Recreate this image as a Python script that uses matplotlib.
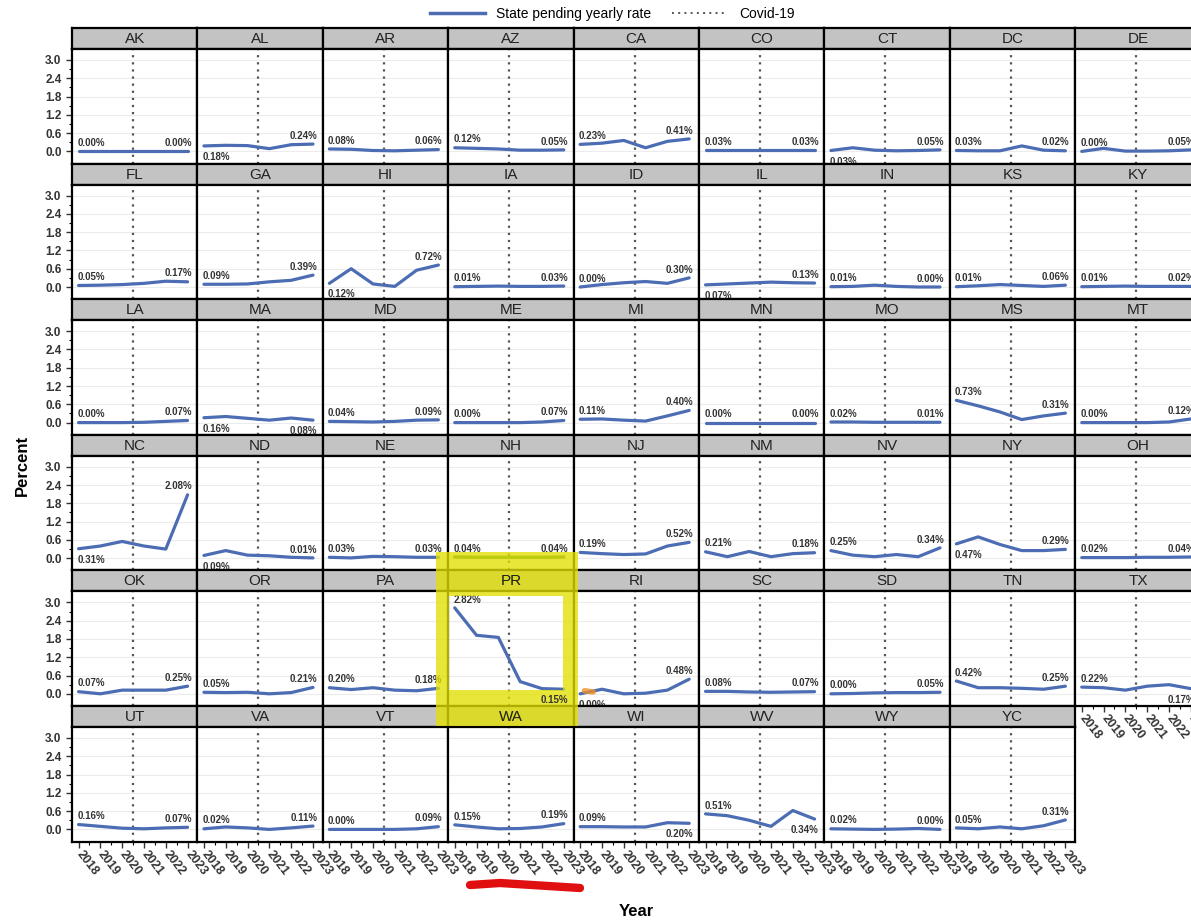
import matplotlib
matplotlib.use("Agg")
import matplotlib.pyplot as plt
from matplotlib.lines import Line2D
from matplotlib.path import Path
from matplotlib.patches import PathPatch
from matplotlib.transforms import ScaledTranslation

plt.rcParams['font.family'] = ['Liberation Sans Narrow', 'Liberation Sans', 'DejaVu Sans']

years = [2018, 2019, 2020, 2021, 2022, 2023]
covid_x = 2020.5

# panel order (row by row, 9 columns)
states = ['AK', 'AL', 'AR', 'AZ', 'CA', 'CO', 'CT', 'DC', 'DE',
          'FL', 'GA', 'HI', 'IA', 'ID', 'IL', 'IN', 'KS', 'KY',
          'LA', 'MA', 'MD', 'ME', 'MI', 'MN', 'MO', 'MS', 'MT',
          'NC', 'ND', 'NE', 'NH', 'NJ', 'NM', 'NV', 'NY', 'OH',
          'OK', 'OR', 'PA', 'PR', 'RI', 'SC', 'SD', 'TN', 'TX',
          'UT', 'VA', 'VT', 'WA', 'WI', 'WV', 'WY', 'YC']

# yearly pending rate (%) 2018..2023
rates = {
    'AK': [0.00, 0.00, 0.00, 0.00, 0.00, 0.00],
    'AL': [0.18, 0.20, 0.19, 0.09, 0.22, 0.24],
    'AR': [0.08, 0.07, 0.03, 0.02, 0.04, 0.06],
    'AZ': [0.12, 0.10, 0.08, 0.04, 0.04, 0.05],
    'CA': [0.23, 0.27, 0.36, 0.12, 0.33, 0.41],
    'CO': [0.03, 0.03, 0.03, 0.03, 0.03, 0.03],
    'CT': [0.03, 0.12, 0.04, 0.02, 0.03, 0.05],
    'DC': [0.03, 0.02, 0.02, 0.18, 0.04, 0.02],
    'DE': [0.00, 0.10, 0.01, 0.01, 0.02, 0.05],
    'FL': [0.05, 0.06, 0.08, 0.12, 0.19, 0.17],
    'GA': [0.09, 0.09, 0.10, 0.17, 0.22, 0.39],
    'HI': [0.12, 0.60, 0.10, 0.02, 0.55, 0.72],
    'IA': [0.01, 0.02, 0.03, 0.02, 0.02, 0.03],
    'ID': [0.00, 0.08, 0.14, 0.18, 0.12, 0.30],
    'IL': [0.07, 0.10, 0.13, 0.16, 0.14, 0.13],
    'IN': [0.01, 0.02, 0.06, 0.02, 0.00, 0.00],
    'KS': [0.01, 0.04, 0.08, 0.05, 0.02, 0.06],
    'KY': [0.01, 0.02, 0.03, 0.02, 0.02, 0.02],
    'LA': [0.00, 0.00, 0.00, 0.01, 0.04, 0.07],
    'MA': [0.16, 0.20, 0.14, 0.08, 0.15, 0.08],
    'MD': [0.04, 0.03, 0.02, 0.04, 0.08, 0.09],
    'ME': [0.00, 0.00, 0.00, 0.00, 0.02, 0.07],
    'MI': [0.11, 0.12, 0.08, 0.05, 0.22, 0.40],
    'MN': [0.00, 0.00, 0.00, 0.00, 0.00, 0.00],
    'MO': [0.02, 0.02, 0.01, 0.01, 0.01, 0.01],
    'MS': [0.73, 0.55, 0.35, 0.10, 0.22, 0.31],
    'MT': [0.00, 0.00, 0.00, 0.00, 0.02, 0.12],
    'NC': [0.31, 0.40, 0.55, 0.40, 0.30, 2.08],
    'ND': [0.09, 0.25, 0.10, 0.08, 0.03, 0.01],
    'NE': [0.03, 0.01, 0.06, 0.05, 0.03, 0.03],
    'NH': [0.04, 0.03, 0.03, 0.03, 0.03, 0.04],
    'NJ': [0.19, 0.15, 0.12, 0.14, 0.40, 0.52],
    'NM': [0.21, 0.05, 0.22, 0.05, 0.15, 0.18],
    'NV': [0.25, 0.10, 0.05, 0.12, 0.05, 0.34],
    'NY': [0.47, 0.70, 0.45, 0.25, 0.25, 0.29],
    'OH': [0.02, 0.02, 0.02, 0.03, 0.03, 0.04],
    'OK': [0.07, 0.00, 0.12, 0.12, 0.12, 0.25],
    'OR': [0.05, 0.04, 0.05, 0.00, 0.04, 0.21],
    'PA': [0.20, 0.14, 0.20, 0.12, 0.10, 0.18],
    'PR': [2.82, 1.92, 1.85, 0.40, 0.17, 0.15],
    'RI': [0.00, 0.15, 0.00, 0.02, 0.12, 0.48],
    'SC': [0.08, 0.08, 0.06, 0.05, 0.06, 0.07],
    'SD': [0.00, 0.01, 0.03, 0.04, 0.04, 0.05],
    'TN': [0.42, 0.20, 0.20, 0.18, 0.15, 0.25],
    'TX': [0.22, 0.20, 0.12, 0.25, 0.30, 0.17],
    'UT': [0.16, 0.10, 0.04, 0.02, 0.05, 0.07],
    'VA': [0.02, 0.08, 0.05, 0.00, 0.05, 0.11],
    'VT': [0.00, 0.00, 0.00, 0.00, 0.02, 0.09],
    'WA': [0.15, 0.08, 0.02, 0.03, 0.08, 0.19],
    'WI': [0.09, 0.09, 0.08, 0.08, 0.22, 0.20],
    'WV': [0.51, 0.45, 0.30, 0.10, 0.62, 0.34],
    'WY': [0.02, 0.01, 0.00, 0.01, 0.03, 0.00],
    'YC': [0.05, 0.02, 0.08, 0.02, 0.12, 0.31],
}

# labels drawn below the line instead of above (first / last point)
below_first = ['AL', 'CT', 'HI', 'IL', 'MA', 'NC', 'ND', 'NY', 'RI']
below_last = ['MA', 'PR', 'TX', 'WI', 'WV']

yticks = [0.0, 0.6, 1.2, 1.8, 2.4, 3.0]

W, H = 1191, 923
fig = plt.figure(figsize=(W / 100, H / 100), dpi=100)

def fx(px):
    return px / W

def fy(py):
    return 1 - py / H

x0, colw = 72, 125.4
y0, rowh, headh = 28, 135.6, 21
ncol = 9
line_col = '#4c6db3'
lab_kw = dict(fontsize=7, fontweight='bold', color='#333333')
panels = {}
axes = {}

for i, st in enumerate(states):
    r, c = divmod(i, ncol)
    left = x0 + c * colw
    top = y0 + r * rowh
    # header strip
    axh = fig.add_axes([fx(left), fy(top + headh), colw / W, headh / H])
    axh.set_facecolor('#c3c3c3')
    axh.set_xticks([])
    axh.set_yticks([])
    for s in axh.spines.values():
        s.set_linewidth(1.6)
    axh.text(0.5, 0.48, st, ha='center', va='center', fontsize=11,
             color='#222222', transform=axh.transAxes)
    panels[st] = (left, top)

    ax = fig.add_axes([fx(left), fy(top + rowh), colw / W, (rowh - headh) / H])
    axes[st] = ax
    ax.set_xlim(2017.7, 2023.45)
    ax.set_ylim(-0.4, 3.36)
    ax.set_yticks(yticks)
    ax.set_yticks([0.3, 0.9, 1.5, 2.1, 2.7], minor=True)
    ax.set_xticks(years)
    ax.set_xticks([2018.5, 2019.5, 2020.5, 2021.5, 2022.5], minor=True)
    ax.grid(axis='y', color='#ececec', linewidth=0.8)
    ax.set_axisbelow(True)
    for s in ax.spines.values():
        s.set_linewidth(1.6)

    ax.axvline(covid_x, color='#555555', linestyle=(0, (1, 2.2)), linewidth=1.6)
    vals = rates[st]
    ax.plot(years, vals, color=line_col, linewidth=2.3, solid_capstyle='round',
            solid_joinstyle='round')

    # end labels
    dy0 = -8 if st in below_first else 6
    ax.annotate(f"{vals[0]:.2f}%", (years[0], vals[0]), xytext=(-1, dy0),
                textcoords='offset points', ha='left', va='center', **lab_kw)
    if st != 'PR':
        dy1 = -8 if st in below_last else 6
        ax.annotate(f"{vals[-1]:.2f}%", (years[-1], vals[-1]), xytext=(3, dy1),
                    textcoords='offset points', ha='right', va='center', **lab_kw)

    if c == 0:
        ax.tick_params(axis='y', labelsize=8.5, length=4, width=1,
                       colors='#333333')
        ax.tick_params(axis='y', which='minor', length=2.5, width=0.8)
        for lb in ax.get_yticklabels():
            lb.set_fontweight('bold')
    else:
        ax.tick_params(axis='y', which='both', left=False, labelleft=False)

    bottom_panel = (i + ncol >= len(states))
    if bottom_panel:
        ax.tick_params(axis='x', length=4, width=1, labelsize=9,
                       colors='#333333')
        ax.tick_params(axis='x', which='minor', length=2.5, width=0.8)
        ax.set_xticklabels([str(y) for y in years], rotation=-52,
                           ha='left', va='center', rotation_mode='anchor',
                           fontweight='bold')
    else:
        ax.tick_params(axis='x', which='both', bottom=False, labelbottom=False)

    if st == 'NH':
        ax.plot(years, vals, color='#3a8a1e', linewidth=2.0, alpha=0.8)
    if st == 'RI':
        ax.plot([2018.2, 2018.6], [0.1, 0.06], color='#f0902a', linewidth=4,
                alpha=0.8, solid_capstyle='round')

# axis titles
fig.text(fx(22), fy(465), 'Percent', rotation=90, ha='center', va='center',
         fontsize=12, fontweight='bold')
fig.text(fx(636), fy(911), 'Year', ha='center', va='center',
         fontsize=12, fontweight='bold')

# legend
handles = [Line2D([], [], color=line_col, linewidth=2.5),
           Line2D([], [], color='#555555', linestyle=(0, (1, 2.2)), linewidth=1.4)]
fig.legend(handles, ['State pending yearly rate', 'Covid-19'], loc='center',
           bbox_to_anchor=(fx(612), fy(14)), ncol=2, frameon=False,
           fontsize=10, handlelength=4, columnspacing=1.5)

# hand-drawn highlight marks on the original image
ox0, ox1, oy0, oy1 = 436, 578, 552, 726
ix0, ix1, iy0, iy1 = 449, 563, 596, 690
outer = [(ox0, oy0), (ox1, oy0), (ox1, oy1), (ox0, oy1), (ox0, oy0)]
inner = [(ix0, iy0), (ix0, iy1), (ix1, iy1), (ix1, iy0), (ix0, iy0)]
verts = [(fx(a), fy(b)) for a, b in outer + inner]
codes = ([Path.MOVETO] + [Path.LINETO] * 3 + [Path.CLOSEPOLY]) * 2
hl = PathPatch(Path(verts, codes), facecolor='#e2e000', edgecolor='none',
               alpha=0.78, transform=fig.transFigure, zorder=3)
fig.add_artist(hl)
for st in ['PR', 'WA']:
    left, top = panels[st]
    fig.text(fx(left + colw / 2), fy(top + headh * 0.52), st, ha='center',
             va='center', fontsize=11, color='#222222', zorder=4)
# PR end label sits on the highlight, so draw it above the patch
ax_pr = axes['PR']
pr_vals = rates['PR']
fig.text(years[-1], pr_vals[-1], f"{pr_vals[-1]:.2f}%", ha='right', va='center',
         transform=ax_pr.transData + ScaledTranslation(3 / 72, -8 / 72,
                                                       fig.dpi_scale_trans),
         zorder=4, **lab_kw)
fig.add_artist(Line2D([fx(470), fx(500), fx(580)], [fy(885), fy(883), fy(888)],
                      color='#e01010', linewidth=6, solid_capstyle='round',
                      transform=fig.transFigure))

fig.savefig('out.png', dpi=100)
